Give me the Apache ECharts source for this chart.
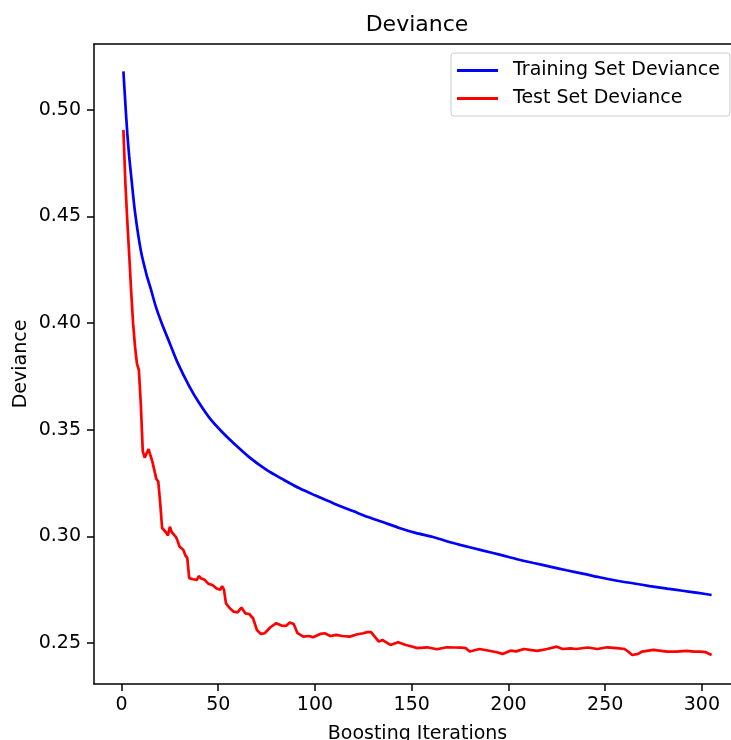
<!DOCTYPE html>
<html>
<head>
<meta charset="utf-8">
<script src="https://cdn.jsdelivr.net/npm/echarts@6/dist/echarts.min.js"></script>
<style>
html,body{margin:0;padding:0;background:#fff;}
#chart{width:731px;height:740px;}
</style>
</head>
<body>
<div id="chart"></div>
<script>
const xTicks = [0, 50, 100, 150, 200, 250, 300];
const yTicks = [0.25, 0.30, 0.35, 0.40, 0.45, 0.50];

const trainIters = [1, 2, 3, 4, 5, 7, 10, 13, 15, 18, 21, 25, 29, 35, 40, 46, 52, 58, 66, 75, 84, 92, 100, 110, 120, 127, 135, 144, 152, 161, 170, 175, 187, 196, 204, 213, 222, 230, 239, 247, 256, 265, 273, 282, 290, 298, 305];
const trainValues = [0.518, 0.503, 0.489, 0.478, 0.469, 0.452, 0.434, 0.4225, 0.4165, 0.407, 0.3995, 0.3905, 0.3815, 0.3705, 0.3628, 0.3550, 0.3490, 0.3437, 0.3372, 0.3312, 0.3265, 0.3226, 0.3193, 0.3154, 0.3118, 0.3093, 0.3068, 0.3039, 0.3017, 0.2998, 0.2973, 0.2961, 0.2934, 0.2914, 0.2895, 0.2876, 0.2858, 0.2842, 0.2825, 0.2809, 0.2793, 0.2780, 0.2768, 0.2756, 0.2746, 0.2736, 0.2726];

const testIters = [1, 2, 3, 4, 5, 6, 7, 8, 9, 10, 11, 12, 13, 14, 15, 16, 17, 18, 19, 20, 21, 22, 23, 24, 25, 26, 27, 28, 29, 30, 31, 32, 33, 34, 35, 36, 37, 38, 39, 40, 41, 43, 45, 47, 49, 51, 52, 53, 54, 56, 58, 60, 62, 64, 66, 68, 70, 72, 74, 77, 80, 83, 85, 87, 89, 91, 94, 97, 99, 103, 105, 108, 111, 114, 118, 122, 125, 127, 129, 131, 133, 135, 139, 143, 147, 150, 153, 158, 163, 168, 172, 176, 178, 180, 185, 190, 194, 197, 201, 204, 208, 212, 215, 220, 225, 228, 232, 235, 241, 246, 251, 256, 260, 262, 264, 267, 269, 275, 282, 287, 292, 296, 299, 302, 305];
const testValues = [0.4905, 0.466, 0.448, 0.432, 0.415, 0.400, 0.389, 0.381, 0.378, 0.362, 0.340, 0.337, 0.3375, 0.3410, 0.3412, 0.3350, 0.3310, 0.3270, 0.3258, 0.3160, 0.3040, 0.3040, 0.3020, 0.3005, 0.3046, 0.3020, 0.3012, 0.3000, 0.2980, 0.2953, 0.2950, 0.2937, 0.2912, 0.2900, 0.2805, 0.2800, 0.2800, 0.2805, 0.2797, 0.2815, 0.2805, 0.2797, 0.2778, 0.2773, 0.2758, 0.2750, 0.2768, 0.2750, 0.2687, 0.2664, 0.2648, 0.2645, 0.2667, 0.2640, 0.2637, 0.2617, 0.2562, 0.2544, 0.2547, 0.2575, 0.2594, 0.2582, 0.2581, 0.2597, 0.2590, 0.2547, 0.2531, 0.2534, 0.2528, 0.2544, 0.2547, 0.2534, 0.2539, 0.2534, 0.2531, 0.2542, 0.2547, 0.2552, 0.2552, 0.2530, 0.2508, 0.2515, 0.2492, 0.2505, 0.2492, 0.2485, 0.2477, 0.2481, 0.2472, 0.2481, 0.2480, 0.2479, 0.2477, 0.2461, 0.2473, 0.2465, 0.2458, 0.2450, 0.2465, 0.2462, 0.2473, 0.2468, 0.2464, 0.2473, 0.2484, 0.2473, 0.2476, 0.2473, 0.2480, 0.2473, 0.2481, 0.2477, 0.2473, 0.2460, 0.2445, 0.2450, 0.2461, 0.2469, 0.2461, 0.2461, 0.2464, 0.2461, 0.2461, 0.2458, 0.2445];

const seriesNames = ['Training Set Deviance', 'Test Set Deviance'];

const FONT = 'DejaVu Sans';
const chart = echarts.init(document.getElementById('chart'), null, {renderer: 'canvas'});

const zip = (a, b) => a.map((x, i) => [x, b[i]]);

chart.setOption({
  animation: false,
  backgroundColor: '#ffffff',
  title: {
    text: 'Deviance',
    left: 417,
    top: 14,
    textAlign: 'center',
    padding: 0,
    textStyle: {fontFamily: FONT, fontSize: 22, fontWeight: 'normal', color: '#000'}
  },
  legend: {
    orient: 'vertical',
    left: 451,
    top: 53,
    padding: [6, 10, 6, 6],
    itemGap: 5,
    itemWidth: 41,
    itemHeight: 3,
    icon: 'rect',
    backgroundColor: '#ffffff',
    borderColor: '#cccccc',
    borderWidth: 1,
    borderRadius: 3,
    textStyle: {fontFamily: FONT, fontSize: 19, color: '#000', lineHeight: 23, padding: [0, 0, 0, 10]},
    data: seriesNames
  },
  grid: {
    left: 94,
    top: 44,
    width: 647,
    height: 640,
    outerBoundsMode: 'none',
    containLabel: false,
    show: false
  },
  xAxis: [
    {
      type: 'value',
      position: 'bottom',
      min: -14.2,
      max: 320.2,
      name: 'Boosting Iterations',
      nameLocation: 'middle',
      nameGap: 41,
      nameTextStyle: {fontFamily: FONT, fontSize: 19, color: '#000'},
      axisLine: {show: true, onZero: false, lineStyle: {color: '#000', width: 1.5}},
      axisTick: {show: true, length: 7, customValues: xTicks, lineStyle: {color: '#000', width: 1.5}},
      axisLabel: {customValues: xTicks, margin: 12, fontFamily: FONT, fontSize: 19, color: '#000'},
      splitLine: {show: false}
    },
    {
      type: 'value',
      position: 'top',
      min: -14.2,
      max: 320.2,
      axisLine: {show: true, onZero: false, lineStyle: {color: '#000', width: 1.5}},
      axisTick: {show: false},
      axisLabel: {show: false},
      splitLine: {show: false}
    }
  ],
  yAxis: {
    type: 'value',
    min: 0.2309,
    max: 0.5308,
    name: 'Deviance',
    nameLocation: 'middle',
    nameGap: 63,
    nameMoveOverlap: false,
    nameRotate: 90,
    nameTextStyle: {fontFamily: FONT, fontSize: 19, color: '#000'},
    axisLine: {show: true, onZero: false, lineStyle: {color: '#000', width: 1.5}},
    axisTick: {show: true, length: 7, customValues: yTicks, lineStyle: {color: '#000', width: 1.5}},
    axisLabel: {customValues: yTicks, margin: 13, fontFamily: FONT, fontSize: 19, color: '#000',
      formatter: v => v.toFixed(2)},
    splitLine: {show: false}
  },
  series: [
    {
      name: seriesNames[0],
      type: 'line',
      xAxisIndex: 0,
      data: zip(trainIters, trainValues),
      symbol: 'none',
      smooth: 0.3,
      lineStyle: {color: '#0000ff', width: 2.7},
      itemStyle: {color: '#0000ff'}
    },
    {
      name: seriesNames[1],
      type: 'line',
      xAxisIndex: 0,
      data: zip(testIters, testValues),
      symbol: 'none',
      lineStyle: {color: '#ff0000', width: 2.7},
      itemStyle: {color: '#ff0000'}
    }
  ]
});
</script>
</body>
</html>
